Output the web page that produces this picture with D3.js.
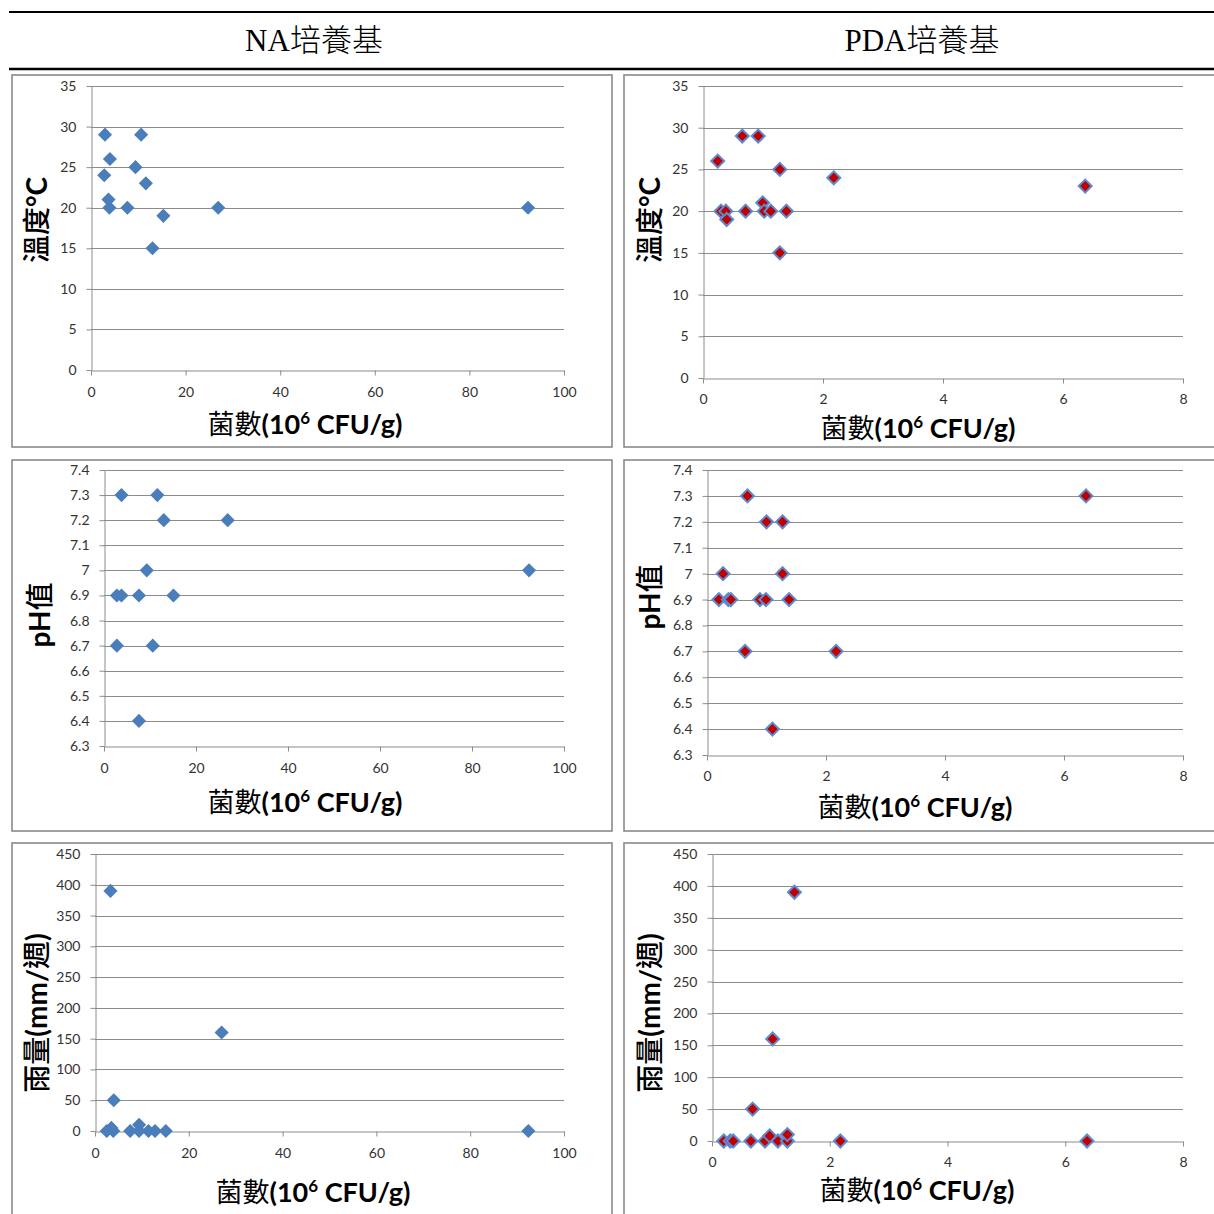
<!DOCTYPE html>
<html><head><meta charset="utf-8">
<script src="https://cdn.jsdelivr.net/npm/d3@7"></script>
<style>
html,body{margin:0;padding:0;background:#fff;}
svg{display:block;}
</style></head>
<body>
<svg id="chart" width="1214" height="1214"></svg>
<script>
// ---------------- DATA ----------------
const columnTitles = ["NA培養基", "PDA培養基"];
const xTitle = "菌數";
const naXTicks = [0, 20, 40, 60, 80, 100];
const pdaXTicks = [0, 2, 4, 6, 8];
const tempTicks = [0, 5, 10, 15, 20, 25, 30, 35];
const phTicks = [6.3, 6.4, 6.5, 6.6, 6.7, 6.8, 6.9, 7.0, 7.1, 7.2, 7.3, 7.4];
const rainTicks = [0, 50, 100, 150, 200, 250, 300, 350, 400, 450];

// NA medium
const naTempCount = [2.96, 10.6, 4.0, 9.4, 2.8, 11.6, 3.7, 3.9, 7.7, 15.3, 26.9, 13.0, 92.4];
const naTemp      = [29,   29,   26,  25,  24,  23,   21,  20,  20,  19,   20,   15,   20];
const naPhCount   = [3.8, 11.6, 13.0, 26.9, 9.3, 2.8, 3.8, 7.6, 15.1, 2.8, 10.6, 7.6, 92.4];
const naPh        = [7.3, 7.3,  7.2,  7.2,  7.0, 6.9, 6.9, 6.9, 6.9,  6.7, 6.7,  6.4, 7.0];
const naRainCount = [3.3, 27.0, 4.0, 2.5, 3.5, 3.9, 7.5, 9.4, 9.4, 11.4, 12.8, 15.1, 92.4];
const naRain      = [390, 160,  50,  0,   5,   0,   0,   10,  0,   0,    0,    0,    0];

// PDA medium
const pdaTempCount = [0.245, 0.655, 0.92, 1.28, 2.18, 0.3, 0.38, 0.395, 0.71, 0.995, 1.02, 1.13, 1.39, 1.28, 6.37];
const pdaTemp      = [26,    29,    29,   25,   24,   20,  20,   19,    20,   21,    20,   20,   20,   15,   23];
const pdaPhCount   = [0.68, 1.0, 1.27, 0.27, 1.27, 0.2, 0.36, 0.4, 0.89, 0.99, 1.38, 0.64, 2.17, 1.1, 6.37];
const pdaPh        = [7.3,  7.2, 7.2,  7.0,  7.0,  6.9, 6.9,  6.9, 6.9,  6.9,  6.9,  6.7,  6.7,  6.4, 7.3];
const pdaRainCount = [1.40, 1.03, 0.69, 0.2, 0.31, 0.36, 0.66, 0.9, 1.12, 1.28, 0.98, 1.28, 2.18, 6.37];
const pdaRain      = [390,  160,  50,   0,   0,    0,    0,    0,   0,    0,    8,    10,   0,    0];

// ---------------- LAYOUT ----------------
const svg = d3.select("#chart");
const GRID = "#8c8c8c";
const LATIN = "Lato, 'Open Sans', 'Noto Sans', sans-serif";
const CJK = "'Noto Sans CJK TC', 'Noto Sans CJK SC', sans-serif";

// header
svg.append("line").attr("x1", 9).attr("x2", 1214).attr("y1", 12).attr("y2", 12)
  .attr("stroke", "#000").attr("stroke-width", 2);
svg.append("line").attr("x1", 9).attr("x2", 1214).attr("y1", 69).attr("y2", 69)
  .attr("stroke", "#000").attr("stroke-width", 2.5);
[314, 922].forEach((cx, i) => {
  svg.append("text").attr("x", cx).attr("y", 51).attr("text-anchor", "middle")
    .attr("font-family", "'Liberation Serif', 'Noto Sans CJK TC', serif")
    .attr("font-weight", 300)
    .attr("font-size", 31).attr("fill", "#000").text(columnTitles[i]);
});

// boxes
const boxes = [
  {x: 12, y: 75, w: 600, h: 372}, {x: 624, y: 75, w: 620, h: 372},
  {x: 12, y: 460, w: 600, h: 371}, {x: 624, y: 460, w: 620, h: 371},
  {x: 12, y: 843, w: 600, h: 400}, {x: 624, y: 843, w: 620, h: 400}
];
boxes.forEach(b => svg.append("rect").attr("x", b.x).attr("y", b.y).attr("width", b.w).attr("height", b.h)
  .attr("fill", "#fff").attr("stroke", "#8a8a8a").attr("stroke-width", 1.6));

const panels = [
  {xs: naTempCount, ys: naTemp, xd: [0, 100], xt: naXTicks, yd: [0, 35], yt: tempTicks,
   l: 91, r: 564, t: 86, b: 370, yTitle: ["溫度", "°C"], ytx: 37, yty: 220, xtx: 305, xty: 434, pda: false},
  {xs: pdaTempCount, ys: pdaTemp, xd: [0, 8], xt: pdaXTicks, yd: [0, 35], yt: tempTicks,
   l: 703, r: 1183, t: 86, b: 378, yTitle: ["溫度", "°C"], ytx: 650, yty: 220, xtx: 918, xty: 438, pda: true},
  {xs: naPhCount, ys: naPh, xd: [0, 100], xt: naXTicks, yd: [6.3, 7.4], yt: phTicks,
   l: 104, r: 564, t: 470, b: 746, yTitle: ["", "pH", "值"], ytx: 40, yty: 615, xtx: 305, xty: 812, pda: false},
  {xs: pdaPhCount, ys: pdaPh, xd: [0, 8], xt: pdaXTicks, yd: [6.3, 7.4], yt: phTicks,
   l: 707, r: 1183, t: 470, b: 755, yTitle: ["", "pH", "值"], ytx: 650, yty: 597, xtx: 915, xty: 817, pda: true},
  {xs: naRainCount, ys: naRain, xd: [0, 100], xt: naXTicks, yd: [0, 450], yt: rainTicks,
   l: 95, r: 564, t: 854, b: 1131, yTitle: ["雨量", "(mm/", "週", ")"], ytx: 37, yty: 1013, xtx: 313, xty: 1202, pda: false},
  {xs: pdaRainCount, ys: pdaRain, xd: [0, 8], xt: pdaXTicks, yd: [0, 450], yt: rainTicks,
   l: 712, r: 1183, t: 854, b: 1141, yTitle: ["雨量", "(mm/", "週", ")"], ytx: 650, yty: 1013, xtx: 917, xty: 1200, pda: true}
];

const fmt = v => String(+v.toFixed(1));

panels.forEach(p => {
  const x = d3.scaleLinear().domain(p.xd).range([p.l, p.r]);
  const y = d3.scaleLinear().domain(p.yd).range([p.b, p.t]);
  const g = svg.append("g");

  // gridlines
  g.selectAll("line.grid").data(p.yt.slice(1)).join("line")
    .attr("x1", p.l).attr("x2", p.r).attr("y1", d => Math.round(y(d)) + 0.5).attr("y2", d => Math.round(y(d)) + 0.5)
    .attr("stroke", GRID).attr("stroke-width", 1);

  // y axis
  const ya = g.append("g").attr("transform", `translate(${p.l + 0.5},0)`)
    .call(d3.axisLeft(y).tickValues(p.yt).tickSize(5).tickSizeOuter(0).tickPadding(10).tickFormat(fmt));
  // x axis
  const xa = g.append("g").attr("transform", `translate(0,${Math.round(p.b) + 0.5})`)
    .call(d3.axisBottom(x).tickValues(p.xt).tickSize(5).tickSizeOuter(0).tickPadding(p.pda ? 11 : 12).tickFormat(d3.format("d")));
  [ya, xa].forEach(a => {
    a.selectAll("path, line").attr("stroke", GRID);
    a.selectAll("text").attr("font-family", LATIN).attr("font-size", 14).attr("fill", "#333");
  });

  // points
  const sym = d3.symbol().type(d3.symbolSquare).size(p.pda ? 84 : 100);
  g.selectAll("path.pt").data(p.xs.map((v, i) => [v, p.ys[i]])).join("path")
    .attr("class", "pt")
    .attr("d", sym)
    .attr("transform", d => `translate(${x(d[0])},${y(d[1])}) rotate(45)`)
    .attr("fill", p.pda ? "#c00000" : "#4a7ebb")
    .attr("stroke", p.pda ? "#5b8bd0" : "none")
    .attr("stroke-width", p.pda ? 2 : 0);

  // x title
  const xt = g.append("text").attr("x", p.xtx).attr("y", p.xty).attr("text-anchor", "middle")
    .attr("font-size", 27).attr("fill", "#000");
  xt.append("tspan").attr("font-family", CJK).text(xTitle);
  xt.append("tspan").attr("font-family", LATIN).attr("font-weight", "bold").text("(10");
  xt.append("tspan").attr("font-family", LATIN).attr("font-weight", "bold").attr("font-size", 17).attr("dy", -10).text("6");
  xt.append("tspan").attr("font-family", LATIN).attr("font-weight", "bold").attr("dy", 10).text(" CFU/g)");

  // y title
  const yt = g.append("text").attr("transform", `translate(${p.ytx + 10},${p.yty}) rotate(-90)`)
    .attr("text-anchor", "middle").attr("font-size", 28).attr("fill", "#000");
  p.yTitle.forEach(s => {
    if (!s) return;
    const isCjk = /[\u4e00-\u9fff]/.test(s);
    yt.append("tspan").attr("font-family", isCjk ? CJK : LATIN)
      .attr("font-weight", isCjk ? 500 : "bold").text(s);
  });
});
</script>
</body></html>
